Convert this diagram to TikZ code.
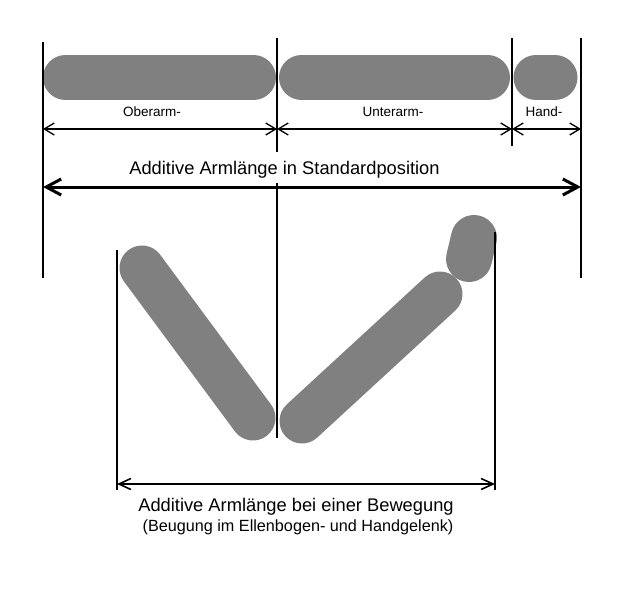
\documentclass[tikz,border=0pt]{standalone}
\usepackage{fontspec}
\setmainfont{Liberation Sans}
\usetikzlibrary{arrows.meta}
\definecolor{limbgray}{HTML}{808080}
\begin{document}
\begin{tikzpicture}[x=1pt,y=-1pt,
  limb/.style={draw=limbgray,line width=45pt,line cap=round},
  vline/.style={draw=black,line width=1.6pt},
  smalldim/.style={draw=black,line width=1.3pt,
    {Straight Barb[length=10pt,width=12pt]}-{Straight Barb[length=10pt,width=12pt]}},
  bigdim/.style={draw=black,line width=3pt,
    {Straight Barb[length=15pt,width=16pt]}-{Straight Barb[length=15pt,width=16pt]}},
  lowdim/.style={draw=black,line width=1.6pt,
    {Straight Barb[length=12pt,width=11pt]}-{Straight Barb[length=12pt,width=11pt]}},
  smalllabel/.style={anchor=base,inner sep=0pt,font=\fontsize{13.5}{16}\selectfont},
  biglabel/.style={anchor=base,inner sep=0pt,font=\fontsize{18.3}{22}\selectfont},
  sublabel/.style={anchor=base,inner sep=0pt,font=\fontsize{16.2}{19}\selectfont}]
\useasboundingbox (0,0) rectangle (636,604);

% limbs in standard position
\draw[limb] (65.5,77.5) coordinate (oa1) -- (253.5,77.5) coordinate (oa2);
\draw[limb] (301.5,77.5) coordinate (ua1) -- (487.5,77.5) coordinate (ua2);
\draw[limb] (536,77.5) coordinate (h1) -- (555,77.5) coordinate (h2);

% limbs in flexion
\draw[limb] (142,268) coordinate (foa1) -- (253,418) coordinate (foa2);
\draw[limb] (302,421) coordinate (fua1) -- (440,294) coordinate (fua2);
\draw[limb,line width=46pt] (474,238) coordinate (fh1) -- (469,259) coordinate (fh2);

% vertical reference lines
\coordinate (L1) at (43,42);   \coordinate (L2) at (43,278);
\coordinate (M1) at (277,38);  \coordinate (M2) at (277,152);
\coordinate (M3) at (277,183); \coordinate (M4) at (277,438);
\coordinate (K1) at (512,38);  \coordinate (K2) at (512,146);
\coordinate (R1) at (581,38);  \coordinate (R2) at (581,278);
\coordinate (P1) at (117,250); \coordinate (P2) at (117,490);
\coordinate (Q1) at (495,232); \coordinate (Q2) at (495,490);
\draw[vline] (L1) -- (L2);
\draw[vline] (M1) -- (M2);
\draw[vline] (M3) -- (M4);
\draw[vline] (K1) -- (K2);
\draw[vline] (R1) -- (R2);
\draw[vline] (P1) -- (P2);
\draw[vline] (Q1) -- (Q2);

% dimension lines
\coordinate (d0) at (43,129);
\coordinate (d1) at (277,129);
\coordinate (d2) at (512,129);
\coordinate (d3) at (581,129);
\draw[smalldim] (d0) -- (d1);
\draw[smalldim] (d1) -- (d2);
\draw[smalldim] (d2) -- (d3);
\coordinate (b0) at (43,187);
\coordinate (b1) at (581,187);
\draw[bigdim] (b0) -- (b1);
\coordinate (e0) at (117,484);
\coordinate (e1) at (495,484);
\draw[lowdim] (e0) -- (e1);

% labels
\node[smalllabel] (tOber) at (152,117) {Oberarm-};
\node[smalllabel] (tUnter) at (393,117) {Unterarm-};
\node[smalllabel] (tHand) at (544,117) {Hand-};
\node[biglabel] (tStd) at (284.5,174) {Additive Armlänge in Standardposition};
\node[biglabel] (tBew) at (296,511.5) {Additive Armlänge bei einer Bewegung};
\node[sublabel] (tBeug) at (298,531.5) {(Beugung im Ellenbogen- und Handgelenk)};
\end{tikzpicture}
\end{document}
